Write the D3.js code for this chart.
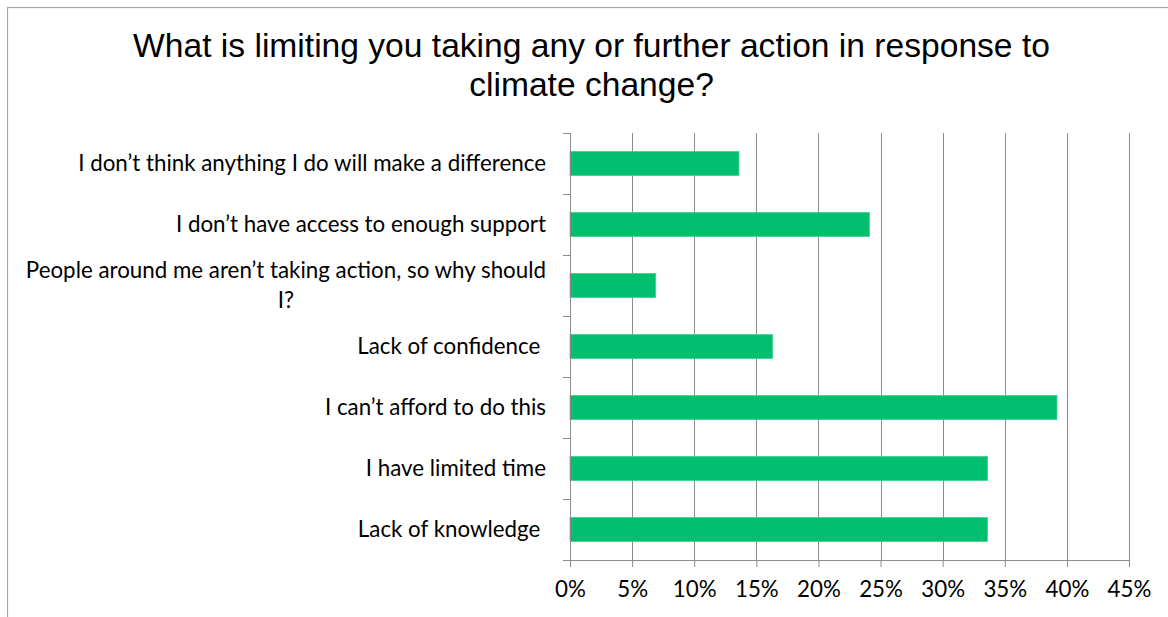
<!DOCTYPE html>
<html><head><meta charset="utf-8">
<script src="https://cdn.jsdelivr.net/npm/d3@7"></script>
<style>body{margin:0;background:#fff;overflow:hidden} svg{display:block}</style>
</head><body><svg id="c" width="1168" height="617"></svg>
<script>
const titleLines = ["What is limiting you taking any or further action in response to", "climate change?"];
const categories = [
  "I don\u2019t think anything I do will make a difference",
  "I don\u2019t have access to enough support",
  "People around me aren\u2019t taking action, so why should I?",
  "Lack of confidence ",
  "I can\u2019t afford to do this",
  "I have limited time",
  "Lack of knowledge "
];
const values = [0.136, 0.241, 0.069, 0.163, 0.392, 0.336, 0.336];
const tickValues = [0, 0.05, 0.10, 0.15, 0.20, 0.25, 0.30, 0.35, 0.40, 0.45];

const svg = d3.select("#c");
const W = 1168, H = 617;
const m = {left: 570, right: 1129, top: 133, bottom: 560};
const labelFont = "Lato, 'Open Sans', sans-serif";
const titleFont = "'Liberation Sans', Arial, sans-serif";

// frame
svg.append("rect").attr("x", 7.5).attr("y", 7.5).attr("width", W + 10).attr("height", H + 10)
  .attr("fill", "#fff").attr("stroke", "#a6a6a6").attr("stroke-width", 1.2);

// measure helper
function measure(text, font, size) {
  const t = svg.append("text").attr("font-family", font).attr("font-size", size)
    .style("white-space", "pre").text(text);
  const w = t.node().getComputedTextLength();
  t.remove();
  return w;
}
const lfs = 20 * 468 / measure(categories[0], labelFont, 20);
const tfs = 32 * 917 / measure(titleLines[0], titleFont, 32);

// title
const title = svg.append("text").attr("font-family", titleFont).attr("font-size", tfs)
  .attr("fill", "#000").attr("text-anchor", "middle");
titleLines.forEach((l, i) => title.append("tspan").attr("x", 591.5).attr("y", 57 + i * 38.5).text(l));

const x = d3.scaleLinear().domain([0, 0.45]).range([m.left, m.right]);
const y = d3.scaleBand().domain(categories).range([m.top, m.bottom]).paddingInner(0.6).paddingOuter(0.3);
const yb = d3.scaleBand().domain(categories).range([m.top, m.bottom]);

// gridlines
svg.append("g").selectAll("line").data(tickValues.slice(1)).join("line")
  .attr("x1", d => Math.round(x(d)) + 0.5).attr("x2", d => Math.round(x(d)) + 0.5)
  .attr("y1", m.top).attr("y2", m.bottom).attr("stroke", "#8c8c8c").attr("stroke-width", 1);

// bars
svg.append("g").selectAll("rect").data(values).join("rect")
  .attr("x", x(0)).attr("y", (d, i) => yb(categories[i]) + yb.bandwidth() / 2 - 12)
  .attr("width", d => x(d) - x(0)).attr("height", 24)
  .attr("fill", "#00BF6F").attr("stroke", "#3fcf8c").attr("stroke-width", 0.8);

// x axis
const xAxis = d3.axisBottom(x).tickValues(tickValues).tickFormat(d3.format(".0%")).tickSize(7).tickPadding(14).tickSizeOuter(0);
const gx = svg.append("g").attr("transform", `translate(0,${m.bottom})`).call(xAxis);
gx.select(".domain").attr("stroke", "#8c8c8c").attr("d", `M${m.left - 7},0.5H${m.right}`);
gx.selectAll(".tick line").attr("stroke", "#8c8c8c");
gx.selectAll(".tick text").attr("font-family", labelFont).attr("font-size", lfs).attr("fill", "#000").attr("dy", "0.71em");

// y axis line and boundary ticks
svg.append("line").attr("x1", m.left + 0.5).attr("x2", m.left + 0.5).attr("y1", m.top).attr("y2", m.bottom)
  .attr("stroke", "#8c8c8c");
svg.append("g").selectAll("line").data(categories).join("line")
  .attr("x1", m.left - 7).attr("x2", m.left)
  .attr("y1", d => Math.round(yb(d)) + 0.5).attr("y2", d => Math.round(yb(d)) + 0.5)
  .attr("stroke", "#8c8c8c");

// category labels (wrapped, lines centered within right-aligned block)
const maxW = 530;
const lg = svg.append("g").attr("font-family", labelFont).attr("font-size", lfs).attr("fill", "#000");
categories.forEach(c => {
  const words = c.split(" ");
  const lines = [];
  let cur = "";
  words.forEach((w, i) => {
    const test = cur ? cur + " " + w : w;
    if (cur && measure(test, labelFont, lfs) > maxW) { lines.push(cur); cur = w; }
    else cur = test;
  });
  lines.push(cur);
  const widths = lines.map(l => measure(l, labelFont, lfs));
  const bw = Math.max(...widths);
  const right = 546;
  const cy = yb(c) + yb.bandwidth() / 2;
  const lh = 30;
  lines.forEach((l, i) => {
    lg.append("text").style("white-space", "pre")
      .attr("x", right - bw / 2).attr("text-anchor", "middle")
      .attr("y", cy + (i - (lines.length - 1) / 2) * lh).attr("dy", "0.35em").text(l);
  });
});
</script></body></html>
